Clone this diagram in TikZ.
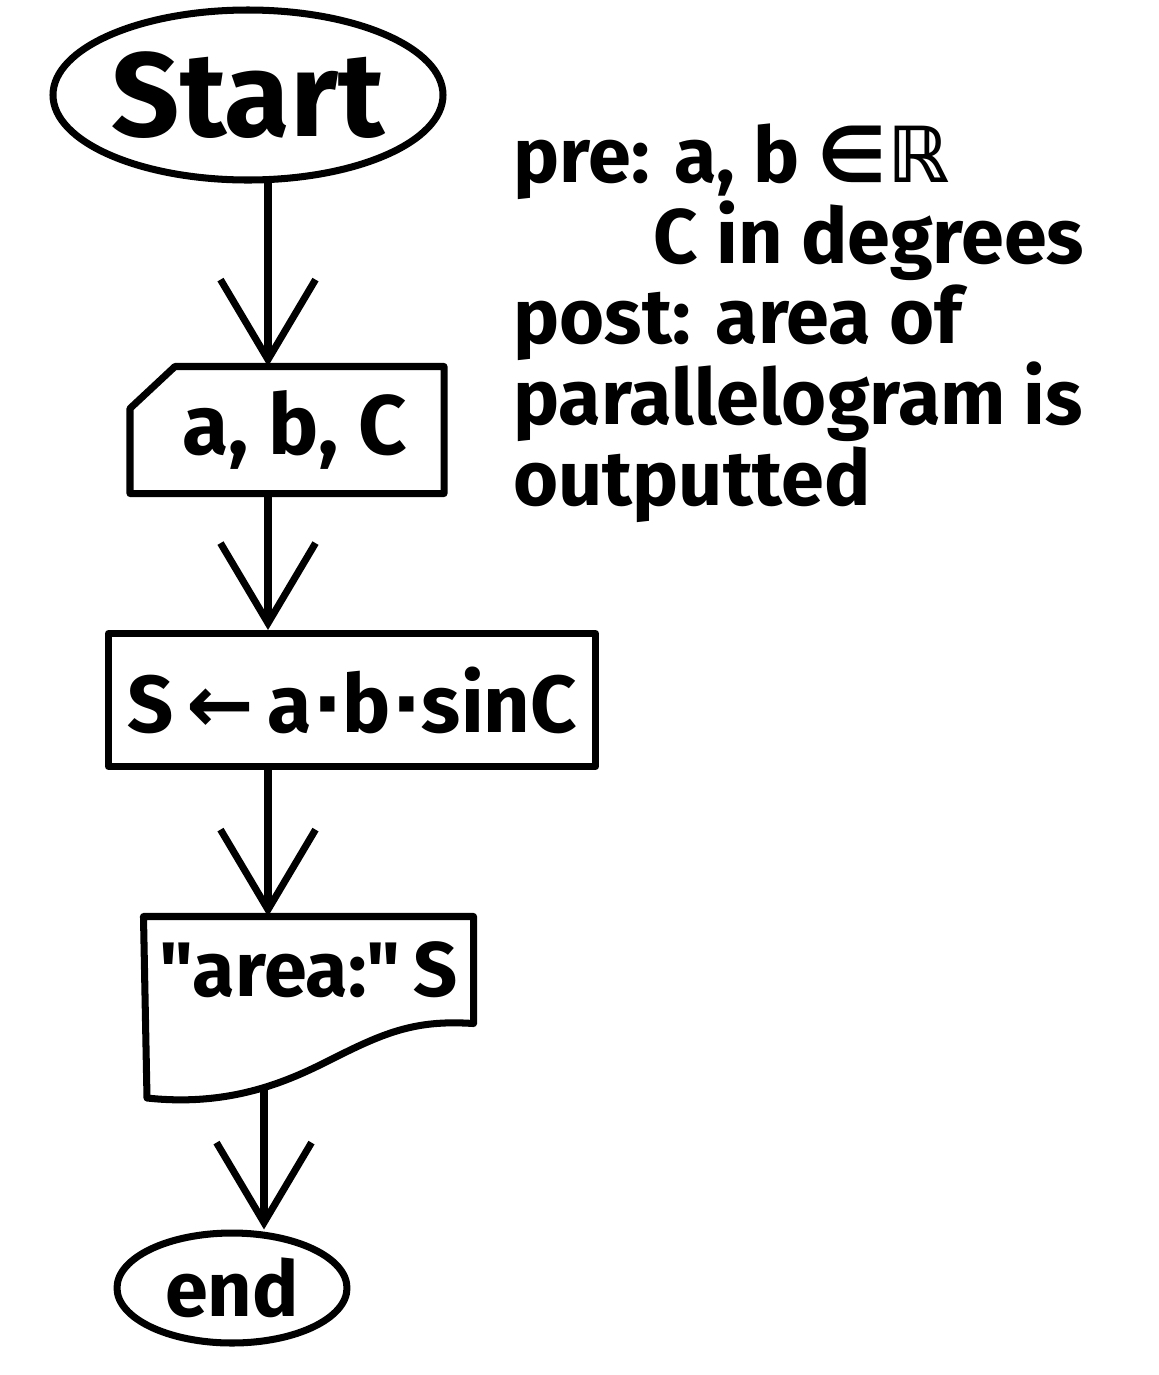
\documentclass[tikz,border=0pt]{standalone}
\usepackage{fontspec}
\setmainfont{Fira Sans}
\newfontfamily\symfont{DejaVu Sans}
\newfontfamily\quotefont{Fira Sans}
\usetikzlibrary{calc}
\usetikzlibrary{shapes.geometric}
\usetikzlibrary{arrows.meta}

\begin{document}
\begin{tikzpicture}[line width=4pt, line cap=round, line join=round,
        flow/.style={-{Straight Barb[length=1.6cm, width=1.9cm]}},
        big/.style={inner sep=0pt, font=\fontsize{#1}{#1}\selectfont\bfseries}]
            \useasboundingbox (0, 0) rectangle (23.18, -27.5);
            \coordinate (spine) at (5.36, 0);
            \node[draw, ellipse, minimum width=7.8cm, minimum height=3.4cm, big=68] (start) at (4.96, -1.9) {Start};
            \node[minimum width=6.14cm, minimum height=2.4cm, big=48] (input) at (5.74, -8.6) {\hspace{0.3cm}a, b, C};
            \draw ([yshift=-0.84cm]input.north west) -- ([xshift=0.9cm]input.north west) -- (input.north east)
                -- (input.south east) -- (input.south west) -- cycle;
            \node[draw, minimum width=9.74cm, minimum height=2.66cm, big=46] (calc) at (7.04, -14) {S\,{\symfont ←}\,a{\symfont ·}b{\symfont ·}sinC};
            \node[minimum width=6.46cm, minimum height=2cm, big=44] (output) at (6.17, -19.4) {{\quotefont"}area:{\quotefont"}\,S};
            \draw (output.south east) -- (output.north east) -- (output.north west) -- (2.94, -21.96)
                .. controls (4.8, -22.16) and (6, -21.5) .. (6.8, -21.1)
                .. controls (7.8, -20.6) and (8.4, -20.4) .. (output.south east);
            \coordinate (outfoot) at (5.28, -21.76);
            \node[draw, ellipse, minimum width=4.6cm, minimum height=2.2cm, big=44] (end) at (4.64, -25.76) {end};
            \draw[flow] (start.south -| spine) -- (input.north -| spine);
            \draw[flow] (input.south -| spine) -- (calc.north -| spine);
            \draw[flow] (calc.south -| spine) -- (output.north -| spine);
            \draw[flow] (outfoot) -- (end.north -| outfoot);
            \node[anchor=north west, align=left, inner sep=0pt, font=\fontsize{44}{46}\selectfont\bfseries] (note) at (10.2, -2.4)
                {pre: a, b {\symfont ∈ℝ}\\\hspace*{2.8cm}C in degrees\\post: area of\\parallelogram is\\outputted};
        \end{tikzpicture}
\end{document}
